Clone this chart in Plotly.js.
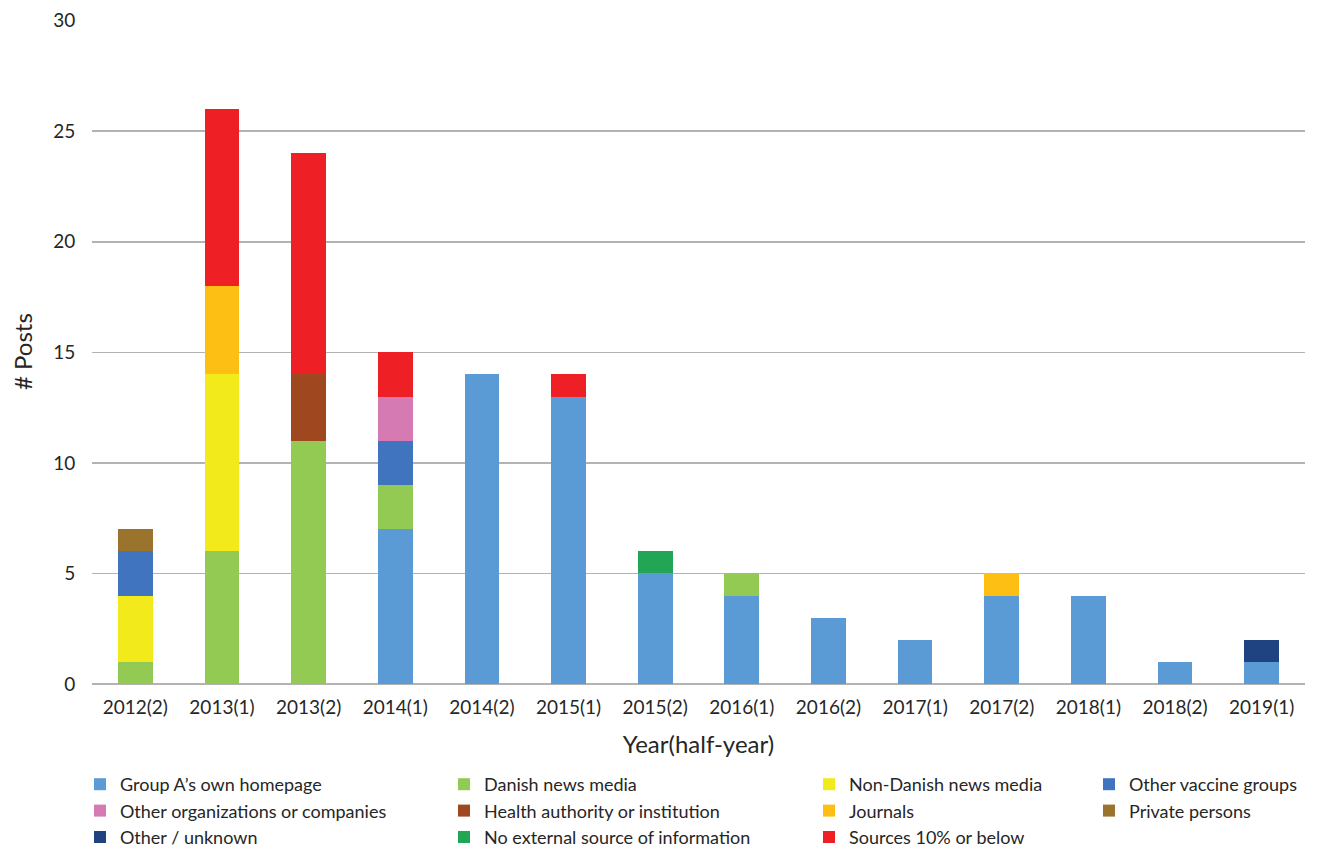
<!DOCTYPE html>
<html>
<head>
<meta charset="utf-8">
<script src="https://cdn.plot.ly/plotly-3.0.1.min.js"></script>
<style>
  html, body { margin: 0; padding: 0; background: #fff; }
  #chart { width: 1317px; height: 849px; }
</style>
</head>
<body>
<div id="chart"></div>
<script>
// Half-year periods on the x axis
const periods = ["2012(2)", "2013(1)", "2013(2)", "2014(1)", "2014(2)", "2015(1)", "2015(2)",
                 "2016(1)", "2016(2)", "2017(1)", "2017(2)", "2018(1)", "2018(2)", "2019(1)"];

// Number of posts per source type, one value per period
const groupAHomepage   = [0, 0, 0, 7, 14, 13, 5, 4, 3, 2, 4, 4, 1, 1];
const danishNews       = [1, 6, 11, 2, 0, 0, 0, 1, 0, 0, 0, 0, 0, 0];
const nonDanishNews    = [3, 8, 0, 0, 0, 0, 0, 0, 0, 0, 0, 0, 0, 0];
const otherVaccine     = [2, 0, 0, 2, 0, 0, 0, 0, 0, 0, 0, 0, 0, 0];
const otherOrgs        = [0, 0, 0, 2, 0, 0, 0, 0, 0, 0, 0, 0, 0, 0];
const healthAuthority  = [0, 0, 3, 0, 0, 0, 0, 0, 0, 0, 0, 0, 0, 0];
const journals         = [0, 4, 0, 0, 0, 0, 0, 0, 0, 0, 1, 0, 0, 0];
const privatePersons   = [1, 0, 0, 0, 0, 0, 0, 0, 0, 0, 0, 0, 0, 0];
const otherUnknown     = [0, 0, 0, 0, 0, 0, 0, 0, 0, 0, 0, 0, 0, 1];
const noExternal       = [0, 0, 0, 0, 0, 0, 1, 0, 0, 0, 0, 0, 0, 0];
const sourcesBelow10   = [0, 8, 10, 2, 0, 1, 0, 0, 0, 0, 0, 0, 0, 0];

const yTicks = [0, 5, 10, 15, 20, 25, 30];
const yTitle = "# Posts";
const xTitle = "Year(half-year)";

// Series in stacking order (bottom to top), with the legend column each belongs to
const series = [
  { name: "Group A\u2019s own homepage",      y: groupAHomepage,  color: "#5B9BD5", legend: "legend"  },
  { name: "Danish news media",                y: danishNews,      color: "#92CA53", legend: "legend2" },
  { name: "Non-Danish news media",            y: nonDanishNews,   color: "#F2EA1B", legend: "legend3" },
  { name: "Other vaccine groups",             y: otherVaccine,    color: "#4174BE", legend: "legend4" },
  { name: "Other organizations or companies", y: otherOrgs,       color: "#D57AB2", legend: "legend"  },
  { name: "Health authority or institution",  y: healthAuthority, color: "#9F4820", legend: "legend2" },
  { name: "Journals",                         y: journals,        color: "#FDBF14", legend: "legend3" },
  { name: "Private persons",                  y: privatePersons,  color: "#9A742D", legend: "legend4" },
  { name: "Other / unknown",                  y: otherUnknown,    color: "#1E4380", legend: "legend"  },
  { name: "No external source of information",y: noExternal,      color: "#22A555", legend: "legend2" },
  { name: "Sources 10% or below",             y: sourcesBelow10,  color: "#EE1F25", legend: "legend3" }
];

const traces = series.map(s => ({
  type: "bar",
  name: s.name,
  x: periods,
  y: s.y,
  legend: s.legend,
  marker: { color: s.color, line: { width: 0 } },
  hoverinfo: "x+y+name"
}));

const FONT = "Lato, 'Noto Sans', sans-serif";
const TEXT = "#262626";

// One vertical legend per column, placed in container coordinates below the axis title
function legendAt(xPx) {
  return {
    x: xPx / 1317, y: 1 - 766 / 849,
    xref: "container", yref: "container",
    xanchor: "left", yanchor: "top",
    orientation: "v",
    bgcolor: "rgba(0,0,0,0)",
    font: { family: FONT, size: 18, color: TEXT },
    itemwidth: 30,
    tracegroupgap: 0,
    traceorder: "normal"
  };
}

const layout = {
  width: 1317,
  height: 849,
  margin: { l: 92, r: 12, t: 20, b: 165, autoexpand: false },
  paper_bgcolor: "#ffffff",
  plot_bgcolor: "#ffffff",
  barmode: "stack",
  bargap: 0.6,
  font: { family: FONT, size: 19, color: TEXT },
  xaxis: {
    type: "category",
    automargin: true,
    tickfont: { family: FONT, size: 19, color: TEXT },
    ticks: "",
    ticklabelstandoff: 10,
    showgrid: false,
    showline: false,
    zeroline: false,
    title: { text: xTitle, font: { family: FONT, size: 24, color: TEXT }, standoff: 19 }
  },
  yaxis: {
    automargin: true,
    range: [0, 30.03],
    tickvals: yTicks,
    ticktext: yTicks.map(String),
    tickfont: { family: FONT, size: 19, color: TEXT },
    // invisible ticks keep the labels clear of the plot edge
    ticks: "outside",
    ticklen: 12,
    tickcolor: "rgba(0,0,0,0)",
    showgrid: true,
    gridcolor: "#B3B3B3",
    gridwidth: 1.5,
    zeroline: true,
    zerolinecolor: "#B3B3B3",
    zerolinewidth: 1.5,
    showline: false
  },
  // vertical y-axis caption left of the tick labels
  annotations: [{
    text: yTitle,
    xref: "paper", yref: "paper",
    x: -70 / 1213, y: 0.5,
    xanchor: "center", yanchor: "middle",
    textangle: -90,
    showarrow: false,
    font: { family: FONT, size: 24, color: TEXT }
  }],
  showlegend: true,
  legend:  legendAt(80),
  legend2: legendAt(444),
  legend3: legendAt(809),
  legend4: legendAt(1089)
};

Plotly.newPlot("chart", traces, layout, { displayModeBar: false, staticPlot: true });
</script>
</body>
</html>
